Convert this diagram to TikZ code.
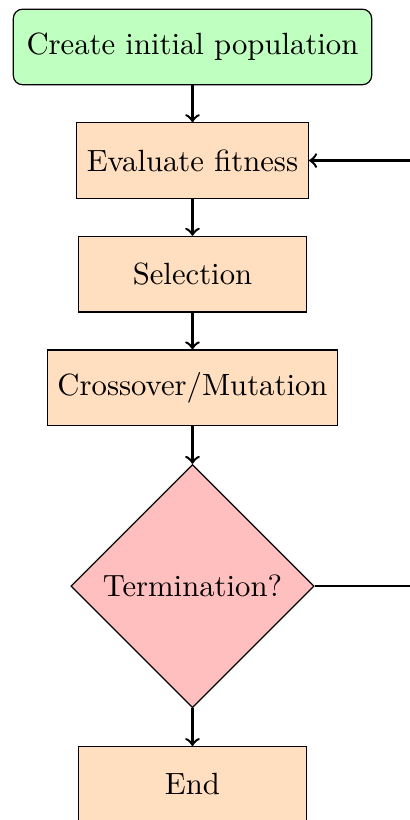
\documentclass[tikz,border=0pt]{standalone}
\usepackage{tikz}
\usetikzlibrary{positioning, shapes.geometric}

\begin{document}
\begin{tikzpicture}[node distance=12pt,
  startbox/.style={draw, rounded corners=3pt, fill=green!25, minimum height=24.6pt, inner xsep=4.3pt},
  procbox/.style={draw, fill=orange!25, minimum height=24.6pt, minimum width=74.2pt},
  decision/.style={draw, diamond, aspect=1, fill=red!25, minimum size=79.2pt, inner sep=0pt},
  flow/.style={->, thick}]
% Fixed frame
\useasboundingbox (-62.7pt,15.3pt) rectangle (70.8pt,-251.8pt);
% Steps
\node[startbox] (init) at (0,0) {Create initial population};
\node[procbox, below=of init] (eval) {Evaluate fitness};
\node[procbox, below=of eval] (sel) {Selection};
\node[procbox, below=of sel] (cross) {Crossover/Mutation};
\node[decision, below=12.3pt of cross] (term) {Termination?};
\node[procbox, below=12.3pt of term] (stop) {End};
% Loop back point
\coordinate[right=1.5cm of term.east] (back);
% Connectors
\draw[flow] (init) -- (eval);
\draw[flow] (eval) -- (sel);
\draw[flow] (sel) -- (cross);
\draw[flow] (cross) -- (term);
\draw[flow] (term) -- (stop);
\draw[flow] (term.east) -- (back) |- (eval.east);
\end{tikzpicture}
\end{document}
